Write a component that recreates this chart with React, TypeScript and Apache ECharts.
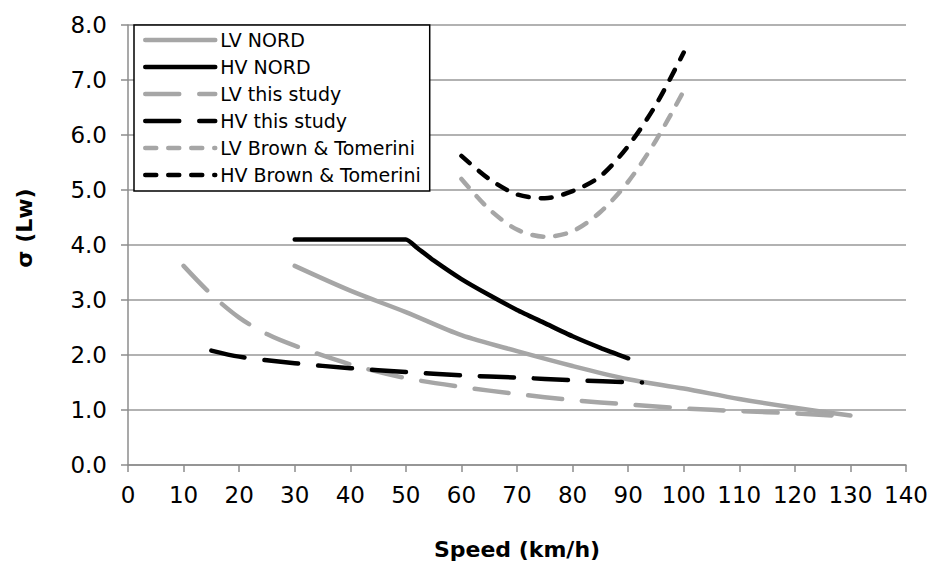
import React, { useEffect, useRef } from "react";
import * as echarts from "echarts";

const lvNordX = [30, 40, 50, 60, 70, 80, 90, 100, 110, 120, 130];
const lvNordY = [3.62, 3.17, 2.78, 2.36, 2.07, 1.8, 1.56, 1.39, 1.2, 1.04, 0.9];

const hvNordX = [30, 40, 50, 52, 55, 60, 65, 70, 75, 80, 85, 90];
const hvNordY = [4.1, 4.1, 4.1, 3.95, 3.72, 3.38, 3.09, 2.82, 2.58, 2.34, 2.13, 1.94];

const lvStudyX = [10, 15, 20, 25, 30, 40, 50, 60, 70, 80, 90, 100, 110, 120, 130];
const lvStudyY = [3.62, 3.1, 2.68, 2.38, 2.17, 1.83, 1.58, 1.42, 1.29, 1.18, 1.1, 1.03, 0.98, 0.94, 0.88];

const hvStudyX = [15, 20, 30, 40, 50, 60, 70, 80, 92.5];
const hvStudyY = [2.08, 1.97, 1.85, 1.76, 1.69, 1.63, 1.59, 1.54, 1.5];

const lvBTX = [60, 65, 70, 75, 80, 85, 90, 95, 100];
const lvBTY = [5.2, 4.65, 4.28, 4.15, 4.25, 4.6, 5.15, 5.9, 6.8];

const hvBTX = [60, 65, 70, 75, 80, 85, 90, 95, 100];
const hvBTY = [5.62, 5.2, 4.92, 4.85, 4.98, 5.25, 5.8, 6.55, 7.5];

const seriesNames = [
  "LV NORD",
  "HV NORD",
  "LV this study",
  "HV this study",
  "LV Brown & Tomerini",
  "HV Brown & Tomerini",
];

const xTitle = "Speed (km/h)";
const yTitle = "σ (Lw)";

const FONT = "'DejaVu Sans', 'Liberation Sans', Arial, sans-serif";
const GRAY = "#a6a6a6";
const BLACK = "#000000";

const pairs = (xs: number[], ys: number[]) => xs.map((x, i) => [x, ys[i]]);

export default function App() {
  const ref = useRef<HTMLDivElement>(null);

  useEffect(() => {
    if (!ref.current) return;
    const chart = echarts.init(ref.current, undefined, { renderer: "svg" });

    const mk = (name: string, data: number[][], color: string, type: any, smooth = 0.3) => ({
      name,
      type: "line",
      data,
      symbol: "none",
      showSymbol: false,
      smooth,
      lineStyle: { color, width: 4.5, type, cap: "round", join: "round" },
      itemStyle: { color },
      emphasis: { disabled: true },
    });

    const longDash = [34, 20];
    const shortDash = [11, 12];

    chart.setOption({
      animation: false,
      backgroundColor: "#ffffff",
      grid: { left: 128, right: 27, top: 25, bottom: 103, containLabel: false },
      legend: {
        orient: "vertical",
        left: 134,
        top: 25,
        padding: [4, 9, 5, 9],
        itemGap: 5,
        itemWidth: 70,
        itemHeight: 14,
        borderColor: "#000",
        borderWidth: 1.5,
        backgroundColor: "#fff",
        selectedMode: false,
        data: seriesNames,
        itemStyle: { opacity: 0, borderWidth: 0 },
        lineStyle: { width: 4.5, cap: "round" },
        textStyle: {
          fontFamily: FONT,
          fontSize: 19,
          lineHeight: 22,
          color: "#000",
        },
      },
      graphic: [
        {
          type: "text",
          x: 24,
          y: 228,
          rotation: Math.PI / 2,
          style: {
            text: yTitle,
            fontFamily: FONT,
            fontSize: 22,
            fontWeight: "bold",
            fill: "#000",
            align: "center",
            verticalAlign: "middle",
          },
        },
      ],
      xAxis: {
        type: "value",
        min: 0,
        max: 140,
        interval: 10,
        name: xTitle,
        nameLocation: "middle",
        nameGap: 73,
        nameTextStyle: {
          fontFamily: FONT,
          fontSize: 22,
          fontWeight: "bold",
          color: "#000",
        },
        axisLine: { show: true, lineStyle: { color: "#8c8c8c", width: 1.5 } },
        axisTick: { show: true, length: 7, lineStyle: { color: "#8c8c8c", width: 1.5 } },
        splitLine: { show: false },
        axisLabel: {
          fontFamily: FONT,
          fontSize: 23,
          color: "#000",
          margin: 18,
        },
      },
      yAxis: {
        type: "value",
        min: 0,
        max: 8,
        interval: 1,
        axisLine: { show: true, lineStyle: { color: "#8c8c8c", width: 1.5 } },
        axisTick: { show: true, length: 7, lineStyle: { color: "#8c8c8c", width: 1.5 } },
        splitLine: { show: true, lineStyle: { color: "#999999", width: 1.5 } },
        axisLabel: {
          fontFamily: FONT,
          fontSize: 23,
          color: "#000",
          margin: 21,
          formatter: (v: number) => v.toFixed(1),
        },
      },
      series: [
        mk(seriesNames[0], pairs(lvNordX, lvNordY), GRAY, "solid"),
        mk(seriesNames[1], pairs(hvNordX, hvNordY), BLACK, "solid", 0.2),
        mk(seriesNames[2], pairs(lvStudyX, lvStudyY), GRAY, longDash),
        mk(seriesNames[3], pairs(hvStudyX, hvStudyY), BLACK, longDash),
        mk(seriesNames[4], pairs(lvBTX, lvBTY), GRAY, shortDash),
        mk(seriesNames[5], pairs(hvBTX, hvBTY), BLACK, shortDash),
      ],
    });

    return () => {
      chart.dispose();
    };
  }, []);

  return (
    <div
      ref={ref}
      style={{ position: "absolute", left: 0, top: 0, width: 933, height: 568 }}
    />
  );
}
